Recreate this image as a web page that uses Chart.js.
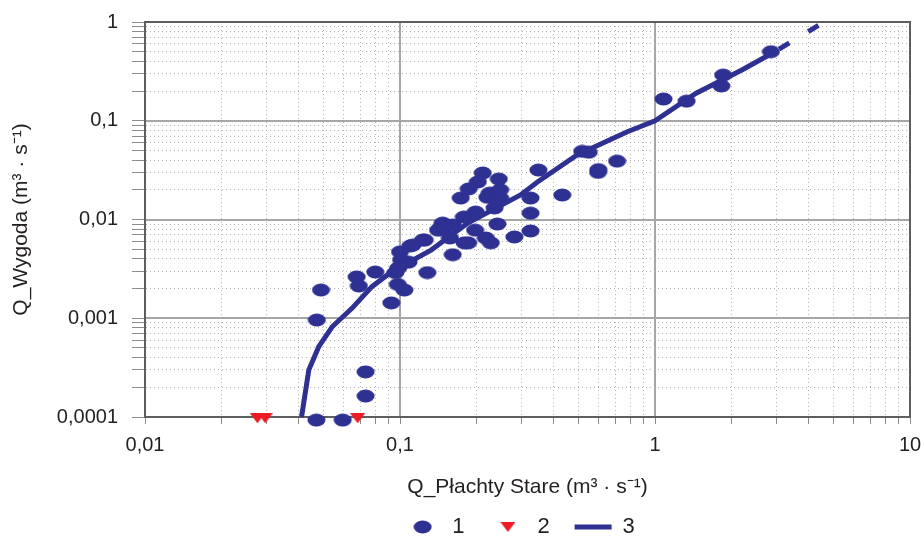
<!DOCTYPE html>
<html><head><meta charset="utf-8">
<script src="https://cdn.jsdelivr.net/npm/chart.js@4/dist/chart.umd.min.js"></script>
<style>html,body{margin:0;padding:0;background:#fff}</style>
</head><body>
<canvas id="c" width="924" height="540"></canvas>
<script>
// ---- data ----
const seriesLabels = ['1', '2', '3'];
const xTickValues = [0.01, 0.1, 1, 10];
const xTickLabels = ['0,01', '0,1', '1', '10'];
const yTickValues = [0.0001, 0.001, 0.01, 0.1, 1];
const yTickLabels = ['0,0001', '0,001', '0,01', '0,1', '1'];

// series 1 (points)
const s1X = [2.85, 1.85, 1.82, 1.08, 1.33, 0.518, 0.55, 0.71, 0.598, 0.60, 0.433, 0.349, 0.325, 0.325, 0.325,
  0.281, 0.211, 0.244, 0.202, 0.186, 0.173, 0.225, 0.247, 0.22, 0.247, 0.235, 0.178, 0.147, 0.241, 0.197,
  0.217, 0.227, 0.185, 0.049, 0.0676, 0.069, 0.080, 0.096, 0.1, 0.101, 0.098, 0.112, 0.125, 0.128, 0.145,
  0.161, 0.179, 0.0472, 0.0733, 0.0733, 0.047, 0.0596, 0.0925, 0.0985, 0.104, 0.11, 0.141, 0.150, 0.157,
  0.198, 0.161, 0.108, 0.123];
const s1Y = [0.50, 0.29, 0.225, 0.166, 0.158, 0.049, 0.048, 0.039, 0.030, 0.032, 0.0177, 0.0317, 0.0165, 0.0116, 0.00765,
  0.00665, 0.0296, 0.0257, 0.024, 0.0204, 0.0165, 0.0185, 0.020, 0.0168, 0.0165, 0.0131, 0.0106, 0.0092, 0.009, 0.0078,
  0.0065, 0.0058, 0.0058, 0.00193, 0.00262, 0.00212, 0.00294, 0.0029, 0.0047, 0.0039, 0.0022, 0.0055, 0.0062, 0.0029, 0.0084,
  0.0044, 0.0058, 0.00096, 0.000286, 0.000163, 0.000093, 0.000093, 0.00143, 0.00323, 0.00193, 0.0054, 0.0078, 0.0082, 0.0065,
  0.0119, 0.0088, 0.0037, 0.0062];

// series 2 (triangles)
const s2X = [0.0276, 0.0296, 0.0682];
const s2Y = [0.000097, 0.000097, 0.000097];

// series 3 (curve) and its dashed extension
const s3X = [0.0411, 0.0439, 0.048, 0.0542, 0.0648, 0.0776, 0.0927, 0.1324, 0.1845, 0.297, 0.346, 0.495, 0.775, 1.0, 1.45, 2.21, 2.95];
const s3Y = [0.0001, 0.0003, 0.000515, 0.00082, 0.00126, 0.00209, 0.00296, 0.0049, 0.0092, 0.0177, 0.024, 0.045, 0.077, 0.1, 0.19, 0.33, 0.5];
const s3extX = [2.95, 4.6];
const s3extY = [0.5, 1.0];

// ---- styles ----
const NAVY = '#2e3192';
const RED = '#ed1c24';
const TXT = '#231f20';
const FONT = '"Liberation Sans", Arial, Helvetica, sans-serif';
const GRID_MINOR = '#b3b3b3';
const GRID_MAJOR = '#a6a6a6';
const FRAME = '#5e5e5e';
const TICKC = '#8c8c8c';

function ellipseImg(w, h, color) {
  const c = document.createElement('canvas'); c.width = w; c.height = h;
  const g = c.getContext('2d'); g.fillStyle = color;
  g.beginPath(); g.ellipse(w / 2, h / 2, w / 2 - 0.5, h / 2 - 0.5, 0, 0, Math.PI * 2); g.fill();
  return c;
}
function triImg(w, h, color) {
  const c = document.createElement('canvas'); c.width = w; c.height = h;
  const g = c.getContext('2d'); g.fillStyle = color;
  g.beginPath(); g.moveTo(0, 0); g.lineTo(w, 0); g.lineTo(w / 2, h); g.closePath(); g.fill();
  return c;
}
const ELL = ellipseImg(19, 14, NAVY);
const TRI = triImg(15, 10, RED);

const pts = (xs, ys) => xs.map((x, i) => ({x, y: ys[i]}));
const lg = v => Math.log10(v);
const isDecade = v => Math.abs(lg(v) - Math.round(lg(v))) < 1e-6;
function decadeTicks(min, max) {
  const out = [];
  for (let e = Math.round(lg(min)); e < Math.round(lg(max)); e++) {
    for (let m = 1; m < 10; m++) out.push(+(m * Math.pow(10, e)).toPrecision(6));
  }
  out.push(max);
  return out.map(v => ({value: v, major: isDecade(v)}));
}
function labelFor(v, vals, labels) {
  for (let i = 0; i < vals.length; i++) if (Math.abs(lg(v) - lg(vals[i])) < 1e-6) return labels[i];
  return '';
}
const innerMajor = (c, min, max) => c.tick && isDecade(c.tick.value) &&
  Math.abs(lg(c.tick.value) - lg(min)) > 1e-6 && Math.abs(lg(c.tick.value) - lg(max)) > 1e-6;
const noEdgePad = s => { s.paddingLeft = 0; s.paddingRight = 0; s.paddingTop = 0; s.paddingBottom = 0; };

const XMIN = xTickValues[0], XMAX = xTickValues[xTickValues.length - 1];
const YMIN = yTickValues[0], YMAX = yTickValues[yTickValues.length - 1];

new Chart(document.getElementById('c'), {
  type: 'scatter',
  data: {
    datasets: [
      {label: seriesLabels[2], data: pts(s3X, s3Y), showLine: true, pointRadius: 0, pointStyle: 'line',
       borderColor: NAVY, backgroundColor: NAVY, borderWidth: 5, tension: 0, clip: false},
      {label: seriesLabels[2] + ' ext', data: pts(s3extX, s3extY), showLine: true, pointRadius: 0,
       borderColor: NAVY, backgroundColor: NAVY, borderWidth: 5, borderDash: [12, 22], borderDashOffset: 29, clip: false},
      {label: seriesLabels[0], data: pts(s1X, s1Y), pointStyle: ELL, pointRadius: 9,
       backgroundColor: NAVY, borderColor: NAVY, borderWidth: 0, clip: false},
      {label: seriesLabels[1], data: pts(s2X, s2Y), pointStyle: TRI, pointRadius: 7,
       backgroundColor: RED, borderColor: RED, borderWidth: 0, clip: false}
    ]
  },
  options: {
    responsive: false,
    animation: false,
    devicePixelRatio: 1,
    layout: {padding: {left: 0, right: -115, top: 22, bottom: 0}},
    plugins: {
      tooltip: {enabled: false},
      legend: {
        position: 'bottom',
        maxHeight: 49,
        labels: {
          usePointStyle: true, pointStyleWidth: 37, padding: 25, color: TXT,
          font: {family: FONT, size: 22},
          filter: it => it.datasetIndex !== 1,
          sort: (a, b) => a.text.localeCompare(b.text)
        }
      }
    },
    scales: {
      x: {
        type: 'logarithmic', position: 'bottom', min: XMIN, max: XMAX,
        afterBuildTicks: s => { s.ticks = decadeTicks(XMIN, XMAX); },
        afterFit: s => { s.height = 74; noEdgePad(s); },
        ticks: {autoSkip: false, maxRotation: 0, padding: 9, color: TXT, font: {family: FONT, size: 20},
          callback: v => labelFor(v, xTickValues, xTickLabels)},
        grid: {color: c => (c.tick && isDecade(c.tick.value)) ? 'rgba(0,0,0,0)' : GRID_MINOR, lineWidth: 1,
          tickLength: 7, tickColor: TICKC, tickWidth: 1},
        border: {display: true, color: FRAME, width: 2, dash: [1, 3]},
        title: {display: true, text: 'Q_Płachty Stare (m³ · s⁻¹)', color: TXT, font: {family: FONT, size: 21},
          padding: {top: 0, bottom: -9}}
      },
      x2: {
        type: 'logarithmic', position: 'top', min: XMIN, max: XMAX,
        afterBuildTicks: s => { s.ticks = decadeTicks(XMIN, XMAX); },
        afterFit: s => { s.height = 0; noEdgePad(s); },
        ticks: {display: false},
        grid: {drawTicks: false, lineWidth: 2, color: c => innerMajor(c, XMIN, XMAX) ? GRID_MAJOR : 'rgba(0,0,0,0)'},
        border: {display: true, color: FRAME, width: 2}
      },
      y: {
        type: 'logarithmic', position: 'left', min: YMIN, max: YMAX,
        afterBuildTicks: s => { s.ticks = decadeTicks(YMIN, YMAX); },
        afterFit: s => { s.width = 145; noEdgePad(s); },
        ticks: {autoSkip: false, padding: 14, color: TXT, font: {family: FONT, size: 20},
          callback: v => labelFor(v, yTickValues, yTickLabels)},
        grid: {color: c => (c.tick && isDecade(c.tick.value)) ? 'rgba(0,0,0,0)' : GRID_MINOR, lineWidth: 1,
          tickLength: 13, tickColor: TICKC, tickWidth: 1},
        border: {display: true, color: FRAME, width: 2, dash: [1, 3]},
        title: {display: true, text: 'Q_Wygoda (m³ · s⁻¹)', color: TXT, font: {family: FONT, size: 21},
          padding: {top: 9, bottom: 0}}
      },
      y2: {
        type: 'logarithmic', position: 'right', min: YMIN, max: YMAX,
        afterBuildTicks: s => { s.ticks = decadeTicks(YMIN, YMAX); },
        afterFit: s => { s.width = 129; noEdgePad(s); },
        ticks: {display: false},
        grid: {drawTicks: false, lineWidth: 2, color: c => innerMajor(c, YMIN, YMAX) ? GRID_MAJOR : 'rgba(0,0,0,0)'},
        border: {display: true, color: FRAME, width: 2}
      }
    }
  }
});
</script>
</body></html>
